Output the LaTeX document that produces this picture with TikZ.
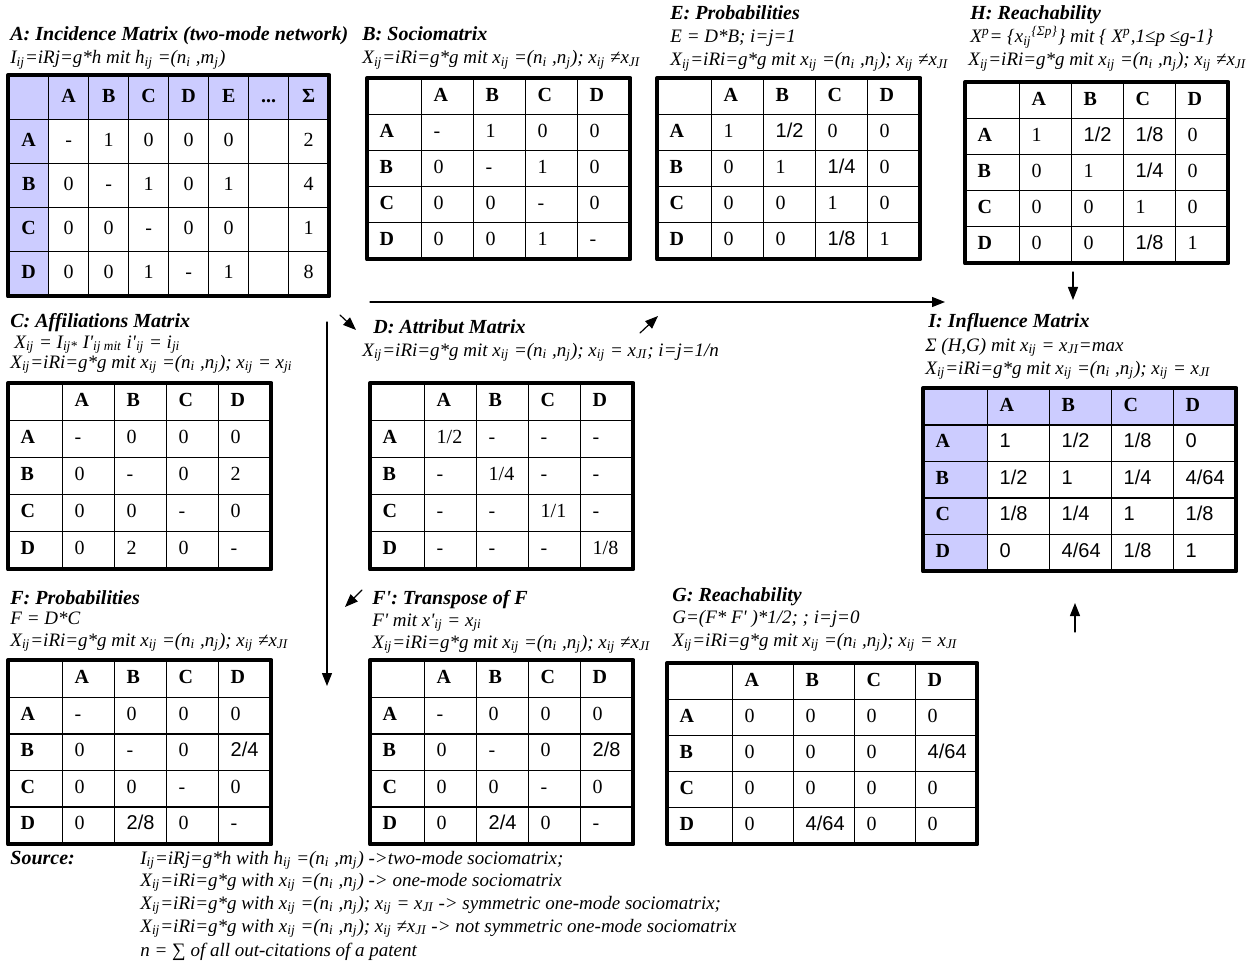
\documentclass[tikz,border=0pt]{standalone}
\usepackage{fontspec}
\setmainfont{Liberation Serif}
\newfontfamily\sansf{Liberation Sans}
\usepackage{tikz}
\usetikzlibrary{arrows.meta,matrix}
\definecolor{lav}{HTML}{CCCCFF}
\newcommand{\sbs}[1]{\textsubscript{#1}}
\newcommand{\sps}[1]{\textsuperscript{#1}}
\newcommand{\fr}[1]{{\sansf #1}}
\newcommand{\pr}{\textquotesingle}
\newcommand{\Xrel}{X\sbs{ij}=iRi=g*g mit x\sbs{ij} =(n\sbs{i} ,n\sbs{j})}
\newcommand{\Xsrc}{X\sbs{ij}=iRi=g*g with x\sbs{ij} =(n\sbs{i} ,n\sbs{j})}
\tikzset{
  ttl/.style={anchor=base west, inner sep=0pt, font=\bfseries\itshape},
  frm/.style={anchor=base west, inner sep=0pt, font=\itshape\fontsize{9.5pt}{11pt}\selectfont},
  mtab/.style n args={3}{matrix of nodes, nodes in empty cells, inner sep=0pt, outer sep=0pt,
    anchor=north west, column sep=-0.7pt, row sep=-0.7pt,
    nodes={draw, line width=0.7pt, outer sep=0pt, inner xsep=6pt, inner ysep=0pt,
      text width=#2, align=left, minimum height=#3, text height=7pt, text depth=2.5pt},
    row 1/.style={nodes={font=\bfseries}},
    column 1/.style={nodes={font=\bfseries, text width=#1}}},
  shade/.style={row 1/.append style={nodes={fill=lav}}, column 1/.append style={nodes={fill=lav}}},
  tabframe/.style={line width=2pt},
  flow/.style={->, line width=0.6pt}
}

\begin{document}
\begin{tikzpicture}[line cap=round,line join=round,>={Triangle[length=6.5pt,width=5pt]},x=0.5pt,y=-0.5pt]
        \useasboundingbox (0,0) rectangle (1258,968);
        % A: incidence matrix
        \node[ttl] (titA) at (10,41) {A: Incidence Matrix (two-mode network)};
        \node[frm] (frmA) at (10,64) {I\sbs{ij}=iRj=g*h mit h\sbs{ij} =(n\sbs{i} ,m\sbs{j})};
        \matrix (tabA) [mtab={16pt}{16pt}{22pt}, shade, nodes={align=center, inner xsep=2pt}] at (8,75) {
              & A & B & C & D & E & ... & Σ \\
            A & - & 1 & 0 & 0 & 0 &     & 2 \\
            B & 0 & - & 1 & 0 & 1 &     & 4 \\
            C & 0 & 0 & - & 0 & 0 &     & 1 \\
            D & 0 & 0 & 1 & - & 1 &     & 8 \\
        };
        \draw[tabframe] (tabA.north west) rectangle (tabA.south east);
        % B: sociomatrix
        \node[ttl] (titB) at (362,41) {B: Sociomatrix};
        \node[frm] (frmB) at (362,64) {\Xrel; x\sbs{ij} ≠x\sbs{JI}};
        \matrix (tabB) [mtab={15pt}{14pt}{18pt}] at (367,78) {
              & A & B & C & D \\
            A & - & 1 & 0 & 0 \\
            B & 0 & - & 1 & 0 \\
            C & 0 & 0 & - & 0 \\
            D & 0 & 0 & 1 & - \\
        };
        \draw[tabframe] (tabB.north west) rectangle (tabB.south east);
        % E: probabilities
        \node[ttl] (titE) at (670,20) {E: Probabilities};
        \node[frm] (frmEa) at (670,43) {E = D*B; i=j=1};
        \node[frm] (frmEb) at (670,66) {\Xrel; x\sbs{ij} ≠x\sbs{JI}};
        \matrix (tabE) [mtab={15pt}{14pt}{18pt}] at (657,78) {
              & A & B & C & D \\
            A & 1 & \fr{1/2} & 0 & 0 \\
            B & 0 & 1 & \fr{1/4} & 0 \\
            C & 0 & 0 & 1 & 0 \\
            D & 0 & 0 & \fr{1/8} & 1 \\
        };
        \draw[tabframe] (tabE.north west) rectangle (tabE.south east);
        % H: reachability
        \node[ttl] (titH) at (970,20) {H: Reachability};
        \node[frm] (frmHa) at (970,43) {X\sps{p}= \{x\sbs{ij}\sps{\{Σp\}}\} mit \{ X\sps{p},1≤p ≤g-1\}};
        \node[frm] (frmHb) at (968,66) {\Xrel; x\sbs{ij} ≠x\sbs{JI}};
        \matrix (tabH) [mtab={15pt}{14pt}{18pt}] at (965,82) {
              & A & B & C & D \\
            A & 1 & \fr{1/2} & \fr{1/8} & 0 \\
            B & 0 & 1 & \fr{1/4} & 0 \\
            C & 0 & 0 & 1 & 0 \\
            D & 0 & 0 & \fr{1/8} & 1 \\
        };
        \draw[tabframe] (tabH.north west) rectangle (tabH.south east);
        % C: affiliations
        \node[ttl] (titC) at (10,328) {C: Affiliations Matrix};
        \node[frm] (frmCa) at (14,348) {X\sbs{ij} = I\sbs{ij*} I\pr\sbs{ij mit} i\pr\sbs{ij} = i\sbs{ji}};
        \node[frm] (frmCb) at (10,368) {\Xrel; x\sbs{ij} = x\sbs{ji}};
        \matrix (tabC) [mtab={15pt}{14pt}{18.5pt}] at (8,383) {
              & A & B & C & D \\
            A & - & 0 & 0 & 0 \\
            B & 0 & - & 0 & 2 \\
            C & 0 & 0 & - & 0 \\
            D & 0 & 2 & 0 & - \\
        };
        \draw[tabframe] (tabC.north west) rectangle (tabC.south east);
        % D: attributes
        \node[ttl] (titD) at (373,334) {D: Attribut Matrix};
        \node[frm] (frmD) at (362,356) {\Xrel; x\sbs{ij} = x\sbs{JI}; i=j=1/n};
        \matrix (tabD) [mtab={15pt}{14pt}{18.5pt}] at (370,383) {
              & A & B & C & D \\
            A & 1/2 & - & - & - \\
            B & - & 1/4 & - & - \\
            C & - & - & 1/1 & - \\
            D & - & - & - & 1/8 \\
        };
        \draw[tabframe] (tabD.north west) rectangle (tabD.south east);
        % I: influence
        \node[ttl] (titI) at (928,328) {I: Influence Matrix};
        \node[frm] (frmIa) at (925,351) {Σ (H,G) mit x\sbs{ij} = x\sbs{JI}=max};
        \node[frm] (frmIb) at (925,374) {\Xrel; x\sbs{ij} = x\sbs{JI}};
        \matrix (tabI) [mtab={20pt}{19pt}{18.2pt}, shade, nodes={font=\sansf, inner xsep=6pt}] at (923,388) {
              & A & B & C & D \\
            A & 1 & 1/2 & 1/8 & 0 \\
            B & 1/2 & 1 & 1/4 & 4/64 \\
            C & 1/8 & 1/4 & 1 & 1/8 \\
            D & 0 & 4/64 & 1/8 & 1 \\
        };
        \draw[tabframe] (tabI.north west) rectangle (tabI.south east);
        % F: probabilities
        \node[ttl] (titF) at (10,604) {F: Probabilities};
        \node[frm] (frmFa) at (10,624) {F = D*C};
        \node[frm] (frmFb) at (10,646) {\Xrel; x\sbs{ij} ≠x\sbs{JI}};
        \matrix (tabF) [mtab={15pt}{14pt}{18.3pt}] at (8,660) {
              & A & B & C & D \\
            A & - & 0 & 0 & 0 \\
            B & 0 & - & 0 & \fr{2/4} \\
            C & 0 & 0 & - & 0 \\
            D & 0 & \fr{2/8} & 0 & - \\
        };
        \draw[tabframe] (tabF.north west) rectangle (tabF.south east);
        % F': transpose
        \node[ttl] (titFt) at (372,604) {F\pr: Transpose of  F};
        \node[frm] (frmFta) at (372,626) {F\pr{} mit x\pr\sbs{ij} = x\sbs{ji}};
        \node[frm] (frmFtb) at (372,648) {\Xrel; x\sbs{ij} ≠x\sbs{JI}};
        \matrix (tabFt) [mtab={15pt}{14pt}{18.3pt}] at (370,660) {
              & A & B & C & D \\
            A & - & 0 & 0 & 0 \\
            B & 0 & - & 0 & \fr{2/8} \\
            C & 0 & 0 & - & 0 \\
            D & 0 & \fr{2/4} & 0 & - \\
        };
        \draw[tabframe] (tabFt.north west) rectangle (tabFt.south east);
        % G: reachability
        \node[ttl] (titG) at (672,601) {G: Reachability};
        \node[frm] (frmGa) at (672,623) {G=(F* F\pr{} )*1/2; ; i=j=0};
        \node[frm] (frmGb) at (672,646) {\Xrel; x\sbs{ij} = x\sbs{JI}};
        \matrix (tabG) [mtab={20.5pt}{18.5pt}{18pt}] at (667,663) {
              & A & B & C & D \\
            A & 0 & 0 & 0 & 0 \\
            B & 0 & 0 & 0 & \fr{4/64} \\
            C & 0 & 0 & 0 & 0 \\
            D & 0 & \fr{4/64} & 0 & 0 \\
        };
        \draw[tabframe] (tabG.north west) rectangle (tabG.south east);
        % source
        \node[ttl] (src) at (10,864) {Source:};
        \node[frm] (srcA) at (140,864) {I\sbs{ij}=iRj=g*h with h\sbs{ij} =(n\sbs{i} ,m\sbs{j}) ->two-mode sociomatrix;};
        \node[frm] (srcB) at (140,886) {\Xsrc{} -> one-mode sociomatrix};
        \node[frm] (srcC) at (140,909) {\Xsrc; x\sbs{ij} = x\sbs{JI}  -> symmetric one-mode sociomatrix;};
        \node[frm] (srcD) at (140,932) {\Xsrc; x\sbs{ij} ≠x\sbs{JI}  -> not symmetric one-mode sociomatrix};
        \node[frm] (srcE) at (140,956) {n = ∑ of all out-citations of a patent};
        % flow arrows
        \coordinate (hd1) at (1073,272);
        \coordinate (hd2) at (1073,300);
        \coordinate (lh1) at (370,302);
        \coordinate (lh2) at (945,302);
        \coordinate (se1) at (340,315);
        \coordinate (se2) at (356,330);
        \coordinate (ne1) at (640,333);
        \coordinate (ne2) at (658,316);
        \coordinate (vl1) at (327,322);
        \coordinate (vl2) at (327,686);
        \coordinate (sw1) at (362,590);
        \coordinate (sw2) at (345,607);
        \coordinate (up1) at (1075,632);
        \coordinate (up2) at (1075,603);
        \draw[flow] (hd1) -- (hd2);
        \draw[flow] (lh1) -- (lh2);
        \draw[flow] (se1) -- (se2);
        \draw[flow] (ne1) -- (ne2);
        \draw[flow] (vl1) -- (vl2);
        \draw[flow] (sw1) -- (sw2);
        \draw[flow] (up1) -- (up2);
    \end{tikzpicture}
\end{document}
